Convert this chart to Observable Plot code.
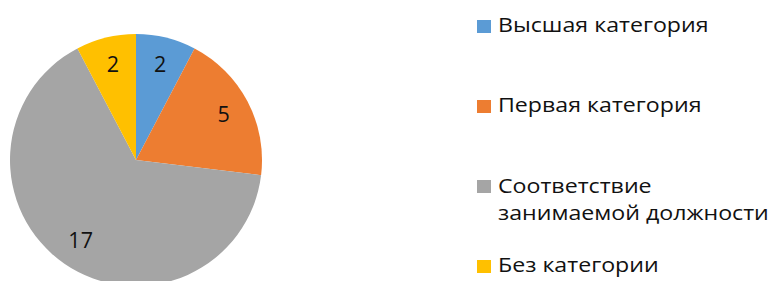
<!DOCTYPE html>
<html><head><meta charset="utf-8">
<script src="https://cdn.jsdelivr.net/npm/d3@7"></script>
<script src="https://cdn.jsdelivr.net/npm/@observablehq/plot@0.6"></script>
<style>
body{margin:0;background:#fff;}
#wrap{position:relative;width:774px;height:281px;overflow:hidden;font-family:"Open Sans",sans-serif;}
#chart{position:absolute;left:0;top:0;}
.sw{position:absolute;width:14px;height:13px;}
.lb{position:absolute;white-space:nowrap;font-size:20.5px;line-height:27px;color:#111;transform:scaleX(1.13);transform-origin:0 0;}
</style></head><body><div id="wrap"><div id="chart"></div></div>
<script>
const categories = ["Высшая категория", "Первая категория", "Соответствие занимаемой должности", "Без категории"];
const legendLines = [["Высшая категория"], ["Первая категория"], ["Соответствие", "занимаемой должности"], ["Без категории"]];
const values = [2, 5, 17, 2];
const colors = ["#5B9BD5", "#ED7D31", "#A5A5A5", "#FFC000"];

const data = categories.map((c, i) => ({category: c, value: values[i], color: colors[i]}));
const arcs = d3.pie().sort(null).value(d => d.value)(data);
const labelR = 0.78;
const labels = arcs.map(a => {
  const mid = (a.startAngle + a.endAngle) / 2;
  return {text: String(a.data.value), x: labelR * Math.sin(mid), y: labelR * Math.cos(mid)};
});

function pieMark(index, scales) {
  const cx = scales.x(0), cy = scales.y(0), r = scales.x(1) - scales.x(0);
  const g = d3.create("svg:g").attr("transform", `translate(${cx},${cy})`);
  const arc = d3.arc().innerRadius(0).outerRadius(r);
  g.selectAll("path").data(arcs).join("path")
    .attr("d", arc)
    .attr("fill", d => d.data.color);
  return g.node();
}

const plot = Plot.plot({
  width: 774,
  height: 281,
  margin: 0,
  style: {fontFamily: "'Open Sans', sans-serif", background: "transparent"},
  x: {domain: [-1, 1], range: [10, 262], axis: null},
  y: {domain: [-1, 1], range: [286, 34], axis: null},
  marks: [
    pieMark,
    Plot.text(labels, {x: "x", y: "y", text: "text", fontSize: 21.5, fill: "#111"})
  ]
});
document.getElementById("chart").appendChild(plot);

// legend
const wrap = document.getElementById("wrap");
const baselines = [32.5, 112.7, 193, 272.7];
legendLines.forEach((lines, i) => {
  const sw = document.createElement("div");
  sw.className = "sw";
  sw.style.left = "477px";
  sw.style.top = (baselines[i] - 13) + "px";
  sw.style.background = colors[i];
  wrap.appendChild(sw);
  const lb = document.createElement("div");
  lb.className = "lb";
  lb.style.left = "498px";
  lb.style.top = (baselines[i] - 21.5) + "px";
  lb.innerHTML = lines.join("<br>");
  wrap.appendChild(lb);
});
</script></body></html>
